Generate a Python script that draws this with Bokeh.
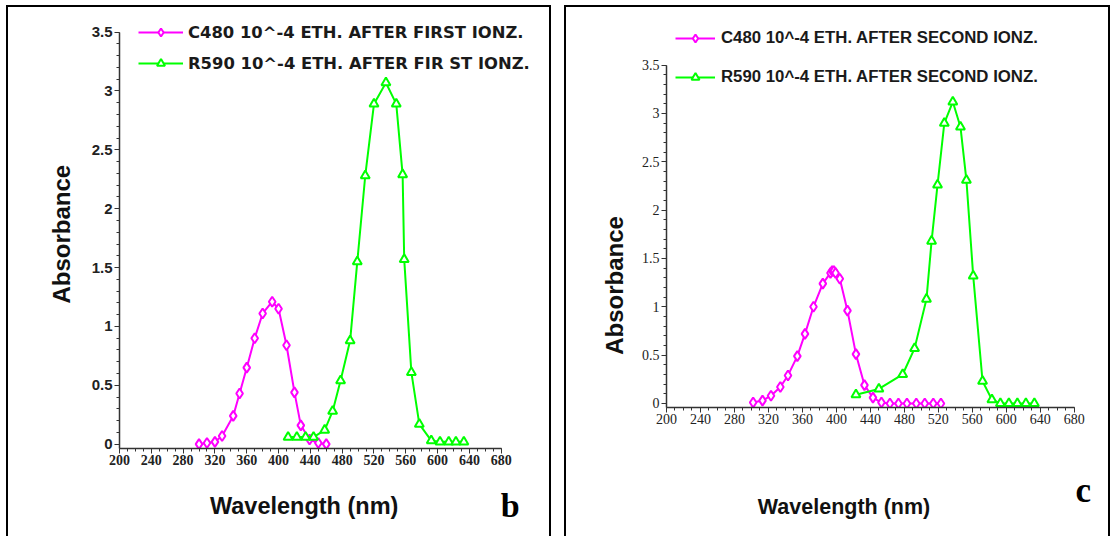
import math
from bokeh.plotting import figure
from bokeh.models import (SingleIntervalTicker, NumeralTickFormatter, Legend, LegendItem, Range1d)
from bokeh.layouts import row, column
from bokeh.core.properties import value
from bokeh.embed import file_html
from bokeh.resources import INLINE

# ---------------- data ----------------
# panel b : after first ionization
b_c480_wl = [300, 310, 320, 329, 343, 351, 360, 370, 380, 392, 400, 410, 420, 428, 439, 450, 460]
b_c480_abs = [0.00, 0.01, 0.02, 0.07, 0.24, 0.43, 0.65, 0.90, 1.11, 1.21, 1.15, 0.84, 0.44, 0.16, 0.04, 0.01, 0.00]
b_r590_wl = [412, 423, 434, 444, 458, 468, 478, 490, 499, 509, 520, 535, 548, 556, 558, 567, 577, 592, 603, 614, 623, 633]
b_r590_abs = [0.06, 0.06, 0.06, 0.06, 0.12, 0.28, 0.54, 0.88, 1.55, 2.28, 2.89, 3.07, 2.89, 2.29, 1.57, 0.61, 0.17, 0.03, 0.02, 0.02, 0.02, 0.02]

# panel c : after second ionization
c_c480_wl = [302, 313, 323, 334, 343, 354, 363, 373, 384, 393, 395, 397, 399, 404, 413, 423, 433, 443, 453, 463, 473, 483, 494, 504, 514, 523]
c_c480_abs = [0.01, 0.03, 0.08, 0.17, 0.29, 0.49, 0.72, 1.00, 1.24, 1.35, 1.37, 1.37, 1.35, 1.29, 0.96, 0.51, 0.19, 0.06, 0.01, 0.00, 0.00, 0.00, 0.00, 0.00, 0.00, 0.00]
c_r590_wl = [423, 450, 478, 492, 506, 512, 519, 527, 537, 546, 553, 561, 572, 583, 593, 603, 613, 623, 633]
c_r590_abs = [0.09, 0.15, 0.30, 0.57, 1.08, 1.68, 2.26, 2.90, 3.12, 2.86, 2.31, 1.32, 0.23, 0.04, 0.00, 0.00, 0.00, 0.00, 0.00]

b_labels = ["C480 10^-4 ETH. AFTER FIRST IONZ.", "R590 10^-4 ETH. AFTER FIR ST IONZ."]
c_labels = ["C480 10^-4 ETH. AFTER SECOND IONZ.", "R590 10^-4 ETH. AFTER SECOND IONZ."]
x_title = "Wavelength (nm)"
y_title = "Absorbance"

X_START, X_END = 200, 680
Y_MAX = 3.5
MAGENTA = "#ff00ff"
GREEN = "#00ff00"
BL = "2px solid black"


def strip(w, h, styles):
    """A plain canvas (no axes) whose frame is the whole drawing area, in pixel units."""
    cw = w - (2 if "border-left" in styles else 0) - (2 if "border-right" in styles else 0)
    ch = h - (2 if "border-top" in styles else 0)
    s = figure(width=w, height=h, x_range=Range1d(0, cw), y_range=Range1d(ch, 0),
               output_backend="svg", toolbar_location=None,
               x_axis_location=None, y_axis_location=None,
               min_border_left=0, min_border_right=0, min_border_top=0, min_border_bottom=0,
               styles=styles)
    s.outline_line_color = None
    s.grid.visible = False
    return s


def panel(c_wl, c_abs, r_wl, r_abs, labels, letter, g):
    # ---- main plot ----
    p = figure(width=g["mw"], height=g["th"],
               x_range=Range1d(X_START, g["x1"]),
               y_range=Range1d(g["y0"], g["y1"]),
               output_backend="svg", toolbar_location=None,
               min_border_left=g["mbl"], min_border_right=0,
               min_border_top=0, min_border_bottom=g["mbb"],
               styles={"border-top": BL, "border-right": BL})
    p.outline_line_color = None
    p.grid.visible = False

    xa = p.xaxis[0]
    xa.ticker = SingleIntervalTicker(interval=40, num_minor_ticks=4)
    xa.bounds = (X_START, X_END)
    ya = p.yaxis[0]
    ya.ticker = SingleIntervalTicker(interval=0.5, num_minor_ticks=5)
    ya.formatter = NumeralTickFormatter(format="0.[0]")
    ya.bounds = (g["y0"], Y_MAX)
    for ax, f in ((xa, "x"), (ya, "y")):
        ax.axis_line_color = "#333333"
        ax.axis_line_width = 1.5
        ax.major_tick_line_color = "#333333"
        ax.minor_tick_line_color = "#333333"
        ax.major_tick_in = 0
        ax.major_tick_out = 5
        ax.minor_tick_in = 0
        ax.minor_tick_out = 3
        ax.major_label_standoff = g[f + "std"]
        ax.major_label_text_font = g[f + "font"]
        ax.major_label_text_font_size = g[f + "fs"]
        ax.major_label_text_font_style = g[f + "style"]
        ax.major_label_text_color = "#222222"

    l1 = p.line(c_wl, c_abs, line_color=MAGENTA, line_width=2)
    s1 = p.scatter(c_wl, c_abs, marker="diamond", size=10, line_color=MAGENTA,
                   line_width=2, fill_color="white")
    l2 = p.line(r_wl, r_abs, line_color=GREEN, line_width=2)
    s2 = p.scatter(r_wl, r_abs, marker="triangle", size=9, line_color=GREEN,
                   line_width=2, fill_color="white")

    leg = Legend(items=[LegendItem(label=labels[0], renderers=[l1, s1]),
                        LegendItem(label=labels[1], renderers=[l2, s2])],
                 location=g["legloc"], orientation="vertical",
                 glyph_width=g["gw"], glyph_height=20, label_height=20,
                 spacing=g["lsp"], label_standoff=g["lstand"],
                 padding=0, margin=0, border_line_color=None,
                 background_fill_alpha=0,
                 label_text_font=g["legfont"], label_text_font_style="bold",
                 label_text_font_size=g["legfs"], label_text_color="#1a1a1a")
    p.add_layout(leg, "center")

    # ---- left strip with the y title ----
    sl = strip(g["slw"], g["th"], {"border-top": BL, "border-left": BL})
    sl.text(x=[g["yt"][0]], y=[g["yt"][1]], text=[y_title], angle=math.pi / 2,
            text_align="center", text_baseline="middle",
            text_font=value("Liberation Sans"), text_font_style="bold",
            text_font_size=g["ytfs"], text_color="#111111")

    # ---- bottom strip with the x title and panel letter ----
    sb = strip(g["slw"] + g["mw"], g["bh"], {"border-left": BL, "border-right": BL})
    sb.text(x=[g["xt"][0]], y=[g["xt"][1]], text=[x_title],
            text_align="center", text_baseline="middle",
            text_font=value("Liberation Sans"), text_font_style="bold",
            text_font_size=g["xtfs"], text_color="#111111")
    sb.text(x=[g["lt"][0]], y=[g["lt"][1]], text=[letter],
            text_align="center", text_baseline="middle",
            text_font=value("Liberation Serif"), text_font_style="bold",
            text_font_size=g["ltfs"], text_color="#000000")

    return column(row(sl, p), sb)


g_b = dict(slw=74, mw=471, th=465, bh=66,
           x1=743.2, y0=-0.0367, y1=3.709, mbl=39, mbb=24,
           xstd=1, xfont="Liberation Sans Narrow", xfs="14px", xstyle="bold",
           ystd=2, yfont="Liberation Sans", yfs="15px", ystyle="bold",
           legloc=(19, 375), gw=45, lsp=11, lstand=5,
           legfont="DejaVu Sans", legfs="16.4px",
           yt=(51.5, 238), ytfs="24px",
           xt=(293.5, 35), xtfs="23.5px", lt=(498, 35), ltfs="34px")

g_c = dict(slw=66, mw=480, th=425, bh=106,
           x1=722.6, y0=-0.0416, y1=4.0956, mbl=36, mbb=25,
           xstd=1, xfont="Liberation Sans Narrow", xfs="14px", xstyle="normal",
           ystd=2, yfont="Liberation Sans Narrow", yfs="14px", ystyle="normal",
           legloc=(9, 320), gw=40, lsp=19, lstand=6,
           legfont="Liberation Sans", legfs="16.8px",
           yt=(47, 294), ytfs="24px",
           xt=(275.5, 76), xtfs="21.5px", lt=(513, 60), ltfs="35px")

pb = panel(b_c480_wl, b_c480_abs, b_r590_wl, b_r590_abs, b_labels, "b", g_b)
pc = panel(c_c480_wl, c_c480_abs, c_r590_wl, c_r590_abs, c_labels, "c", g_c)

layout = row(pb, pc, spacing=13, margin=(5, 0, 0, 6))

open("out.html", "w").write(file_html(layout, INLINE))
